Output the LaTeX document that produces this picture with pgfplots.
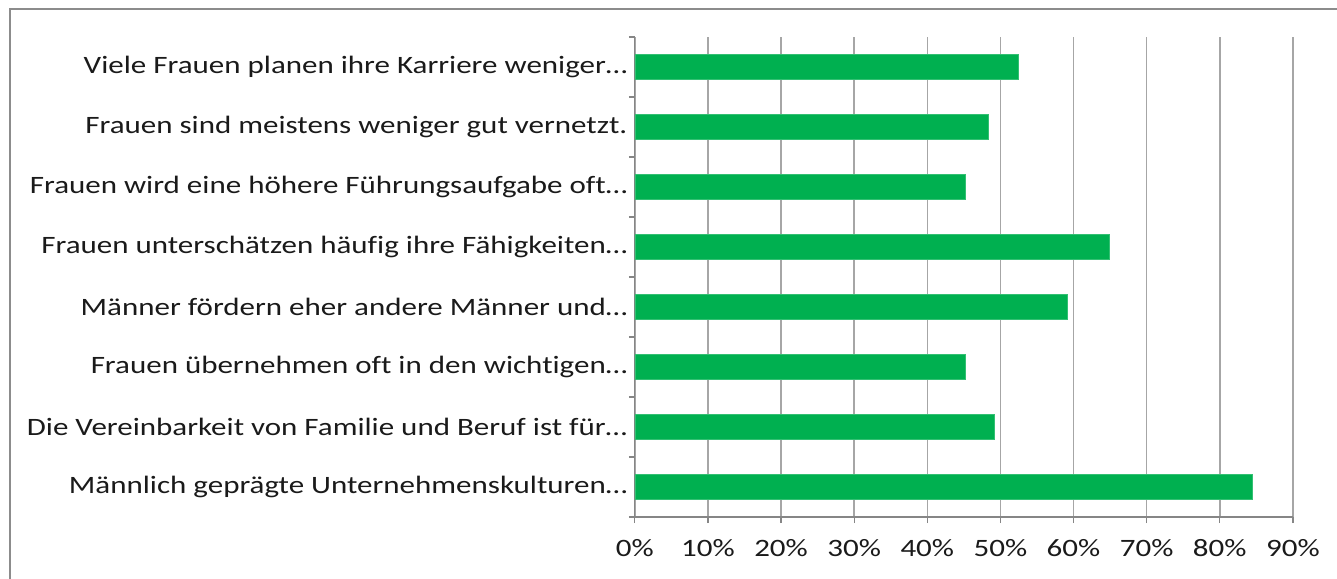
\documentclass[border=0pt]{standalone}
\usepackage{pgfplots}
\pgfplotsset{compat=1.18}
\usepackage{fontspec}
\setmainfont{Carlito}[FakeStretch=1.24, Ligatures={NoCommon}]
\definecolor{bargreen}{HTML}{00B050}
\definecolor{gridgray}{HTML}{A6A6A6}
\definecolor{axisgray}{HTML}{868686}
\definecolor{txt}{HTML}{1A1A1A}
\definecolor{frame}{HTML}{8C8C8C}
\begin{document}
\begin{tikzpicture}
\path[use as bounding box] (0,0) rectangle (1337bp,579bp);
\draw[frame, line width=2bp] (10bp,-5bp) -- (10bp,570bp) -- (1345bp,570bp);
\begin{axis}[
  at={(634.8bp,62bp)}, anchor=origin,
  scale only axis, width=658.1bp, height=480bp,
  xmin=0, xmax=90, ymin=0.5, ymax=8.5,
  axis lines=left, axis line style={-, axisgray, line width=1.2bp},
  xtick={0,10,...,90},
  xticklabel={\pgfmathprintnumber{\tick}\%},
  xmajorgrids, major grid style={gridgray, line width=1.5bp},
  ytick={1,...,8},
  yticklabels={Männlich geprägte Unternehmenskulturen…,
    Die Vereinbarkeit von Familie und Beruf ist für…,
    Frauen übernehmen oft in den wichtigen…,
    Männer fördern eher andere Männer und…,
    Frauen unterschätzen häufig ihre Fähigkeiten…,
    Frauen wird eine höhere Führungsaufgabe oft…,
    Frauen sind meistens weniger gut vernetzt. ,
    Viele Frauen planen ihre Karriere weniger…},
  minor ytick={0.5,1.5,...,8.5},
  tick align=outside,
  major tick length=6bp, minor tick length=6bp,
  y tick style={draw=none},
  minor y tick style={draw=axisgray, line width=1.2bp},
  x tick style={axisgray, line width=1.2bp},
  ticklabel style={font=\fontsize{25bp}{29bp}\selectfont, text=txt},
  /pgf/number format/assume math mode=true,
  xticklabel style={yshift=-13bp},
  yticklabel style={xshift=2bp},
  clip=false,
]
\addplot[xbar, bar width=0.41, fill=bargreen, draw=bargreen!80!white, line width=0.6bp]
 coordinates {(84.5,1) (49.2,2) (45.2,3) (59.1,4) (64.9,5) (45.2,6) (48.4,7) (52.4,8)};
\end{axis}
\end{tikzpicture}
\end{document}
